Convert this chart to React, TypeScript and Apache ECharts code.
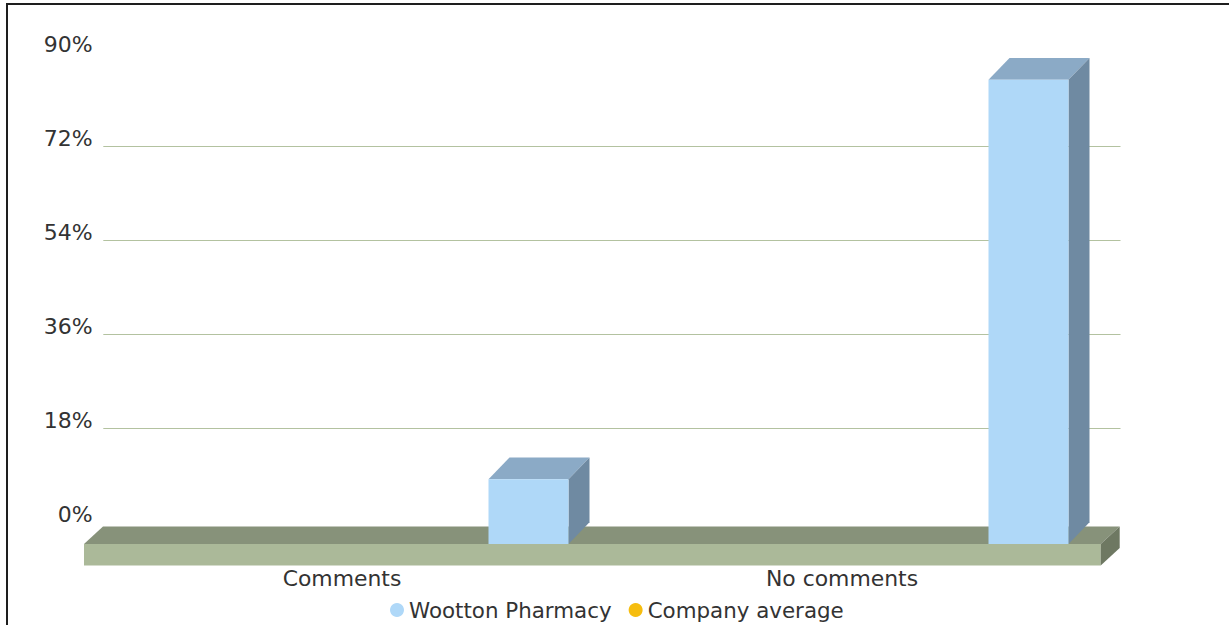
import React, { useEffect, useRef } from 'react';
import * as echarts from 'echarts';

// ---- data ----
const categories = ['Comments', 'No comments'];
const seriesNames = ['Wootton Pharmacy', 'Company average'];
const woottonValues = [12.4, 88.8];
const companyValues: (number | null)[] = [null, null];
const yMin = 0;
const yMax = 90;
const yInterval = 18;

// ---- styles ----
const FONT = '"DejaVu Sans", Verdana, sans-serif';
const TEXT = '#333333';
const BAR_FRONT = '#AFD8F8';
const BAR_TOP = '#8BAAC6';
const BAR_SIDE = '#6F8AA2';
const COMPANY = '#F6BD0F';
const FLOOR_FRONT = '#ABB999';
const FLOOR_TOP = '#87927A';
const FLOOR_SIDE = '#6E7862';
const GRID_LINE = '#B3C2A0';

const BAR_DX = 21;
const BAR_DY = -21.7;
const FLOOR_DX = 19;
const FLOOR_DY = -17.5;
const FLOOR_H = 21.5;
const FLOOR_PAD_L = 8;
const FLOOR_PAD_R = 8.7;
const BAR_OFFSET = 0.373; // fraction of band width, from category centre
const BAR_WIDTH = 0.16; // fraction of band width

export default function App() {
  const ref = useRef<HTMLDivElement>(null);

  useEffect(() => {
    if (!ref.current) return;
    const chart = echarts.init(ref.current, undefined, { renderer: 'svg' });

    const floorRender = (params: any, api: any) => {
      const cs = params.coordSys;
      const y0 = api.coord([0, 0])[1];
      const x0 = cs.x - FLOOR_PAD_L;
      const x1 = cs.x + cs.width + FLOOR_PAD_R;
      return {
        type: 'group',
        children: [
          {
            type: 'polygon',
            shape: { points: [[x0, y0], [x0 + FLOOR_DX, y0 + FLOOR_DY], [x1 + FLOOR_DX, y0 + FLOOR_DY], [x1, y0]] },
            style: { fill: FLOOR_TOP },
          },
          {
            type: 'rect',
            shape: { x: x0, y: y0, width: x1 - x0, height: FLOOR_H },
            style: { fill: FLOOR_FRONT },
          },
          {
            type: 'polygon',
            shape: {
              points: [
                [x1, y0],
                [x1 + FLOOR_DX, y0 + FLOOR_DY],
                [x1 + FLOOR_DX, y0 + FLOOR_DY + FLOOR_H],
                [x1, y0 + FLOOR_H],
              ],
            },
            style: { fill: FLOOR_SIDE },
          },
        ],
      };
    };

    const barRender = (params: any, api: any) => {
      const ci = api.value(0);
      const v = api.value(1);
      const base = api.coord([ci, 0]);
      const top = api.coord([ci, v]);
      const band = api.size([1, 0])[0];
      const w = band * BAR_WIDTH;
      const cx = base[0] + band * BAR_OFFSET;
      const xl = cx - w / 2;
      const xr = cx + w / 2;
      const yt = top[1];
      const yb = base[1];
      return {
        type: 'group',
        children: [
          {
            type: 'polygon',
            shape: { points: [[xl, yt], [xl + BAR_DX, yt + BAR_DY], [xr + BAR_DX, yt + BAR_DY], [xr, yt]] },
            style: { fill: BAR_TOP },
          },
          {
            type: 'polygon',
            shape: { points: [[xr, yt], [xr + BAR_DX, yt + BAR_DY], [xr + BAR_DX, yb + BAR_DY], [xr, yb]] },
            style: { fill: BAR_SIDE },
          },
          {
            type: 'rect',
            shape: { x: xl, y: yt, width: w, height: yb - yt },
            style: { fill: BAR_FRONT },
          },
        ],
      };
    };

    const option: any = {
      animation: false,
      backgroundColor: '#ffffff',
      textStyle: { fontFamily: FONT },
      grid: [
        // back plane (gridlines + value labels)
        { left: 103.3, right: 108.5, top: 51.9, bottom: 102.7 },
        // front plane (bars + category labels)
        { left: 92, right: 137, top: 73.5, bottom: 81 },
      ],
      xAxis: [
        { gridIndex: 0, type: 'category', data: categories, show: false },
        {
          gridIndex: 1,
          type: 'category',
          data: categories,
          axisLine: { show: false },
          axisTick: { show: false },
          splitLine: { show: false },
          axisLabel: { margin: 24, fontSize: 21.9, lineHeight: 21, color: TEXT, fontFamily: FONT },
        },
      ],
      yAxis: [
        {
          gridIndex: 0,
          type: 'value',
          min: yMin,
          max: yMax,
          interval: yInterval,
          axisLine: { show: false },
          axisTick: { show: false },
          axisLabel: {
            formatter: '{value}%',
            margin: 10.6,
            fontSize: 22,
            lineHeight: 15.4,
            color: TEXT,
            fontFamily: FONT,
            verticalAlign: 'bottom',
          },
          splitLine: {
            show: true,
            lineStyle: {
              width: 1,
              color: ['rgba(0,0,0,0)', GRID_LINE, GRID_LINE, GRID_LINE, GRID_LINE, 'rgba(0,0,0,0)'],
            },
          },
        },
        { gridIndex: 1, type: 'value', min: yMin, max: yMax, interval: yInterval, show: false, splitLine: { show: false } },
      ],
      legend: {
        data: seriesNames,
        left: 385,
        top: 594.5,
        icon: 'circle',
        itemWidth: 14,
        itemHeight: 14,
        itemGap: 17,
        textStyle: { fontSize: 21.4, lineHeight: 21, color: TEXT, fontFamily: FONT },
      },
      graphic: [
        { type: 'line', shape: { x1: 7, y1: 3, x2: 7, y2: 625 }, style: { stroke: '#1e1e1e', lineWidth: 2 } },
        { type: 'line', shape: { x1: 6, y1: 4, x2: 1229, y2: 4 }, style: { stroke: '#1e1e1e', lineWidth: 2 } },
      ],
      series: [
        {
          name: '__floor',
          type: 'custom',
          xAxisIndex: 1,
          yAxisIndex: 1,
          data: [[0, 0]],
          renderItem: floorRender,
          silent: true,
          z: 1,
          clip: false,
        },
        {
          name: seriesNames[0],
          type: 'custom',
          xAxisIndex: 1,
          yAxisIndex: 1,
          itemStyle: { color: BAR_FRONT },
          data: woottonValues.map((v, i) => [i, v]),
          encode: { x: 0, y: 1 },
          renderItem: barRender,
          z: 3,
          clip: false,
        },
        {
          name: seriesNames[1],
          type: 'bar',
          xAxisIndex: 1,
          yAxisIndex: 1,
          itemStyle: { color: COMPANY },
          data: companyValues,
        },
      ],
    };

    chart.setOption(option);
    return () => chart.dispose();
  }, []);

  return (
    <div
      ref={ref}
      style={{ position: 'fixed', left: 0, top: 0, width: 1229, height: 625, background: '#fff' }}
    />
  );
}
